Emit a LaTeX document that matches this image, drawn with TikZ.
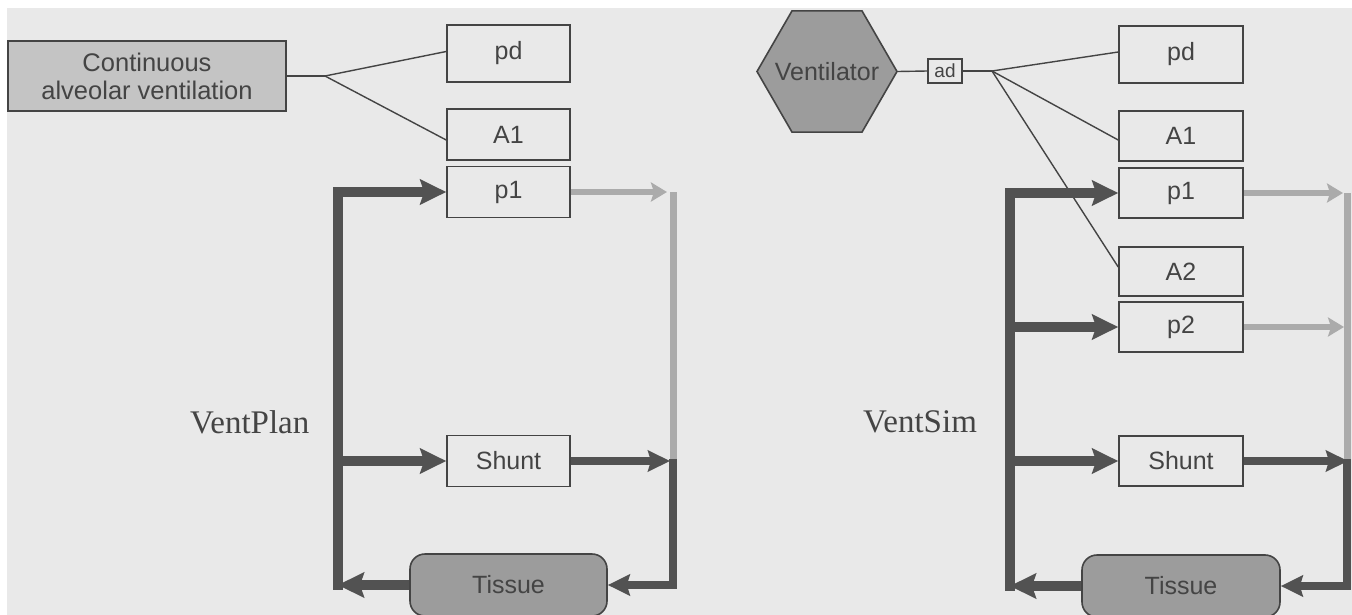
\documentclass[tikz,border=0pt]{standalone}
\usepackage{fontspec}
\setmainfont{Liberation Serif}
\setsansfont{Liberation Sans}
\usetikzlibrary{arrows.meta,shapes.geometric}
\definecolor{bg}{HTML}{E9E9E9}
\definecolor{ink}{HTML}{444444}
\definecolor{lightfill}{HTML}{C4C4C4}
\definecolor{darkfill}{HTML}{9C9C9C}
\definecolor{flow}{HTML}{525252}
\definecolor{dotflow}{HTML}{ABABAB}
\begin{document}
\begin{tikzpicture}[x=1pt,y=-1pt,
  lbl/.style={font=\sffamily\fontsize{25}{28}\selectfont, text=ink},
  box/.style={lbl, draw=ink, line width=1.6pt, fill=bg, inner sep=0pt, minimum height=51pt},
  boxL/.style={box, minimum width=123pt},
  boxR/.style={box, minimum width=124pt},
  tissuebox/.style={lbl, draw=ink, line width=1.6pt, fill=darkfill, rounded corners=15pt, minimum width=197pt, minimum height=62pt, inner sep=0pt},
  title/.style={font=\fontsize{33}{38}\selectfont, text=ink, anchor=base west, inner sep=0pt},
  thin/.style={draw=ink, line width=1.4pt},
  mainline/.style={draw=flow, line width=10.5pt, line join=miter},
  mainarrow/.style={mainline, -{Stealth[length=26pt,width=25pt,inset=4pt]}},
  retline/.style={draw=flow, line width=8pt, line join=miter},
  retarrow/.style={retline, -{Stealth[length=22pt,width=21pt,inset=3pt]}},
  dotline/.style={draw=dotflow, line width=7pt},
  dotarrow/.style={draw=dotflow, line width=6pt, -{Stealth[length=16pt,width=19pt,inset=3pt]}}
]
\useasboundingbox (0,0) rectangle (1352,615);
\fill[white] (0,0) rectangle (1352,615);
\fill[bg] (7,8) rectangle (1352,615);

% ---------------- Left: VentPlan ----------------
\node[lbl, draw=ink, line width=1.6pt, fill=lightfill, minimum width=278pt, minimum height=70pt, inner sep=0pt, align=center, font=\sffamily\fontsize{25.5}{28}\selectfont] (cav) at (147,76) {Continuous\\alveolar ventilation};
\node[boxL, minimum height=57pt] (pdL) at (508.5,53.5) {pd};
\node[boxL] (A1L) at (508.5,134.5) {A1};
\node[boxL] (p1L) at (508.5,192) {p1};
\node[boxL] (shuntL) at (508.5,461) {Shunt};
\node[tissuebox] (tissueL) at (508.5,585) {Tissue};
\node[title] (ventplan) at (190,433) {VentPlan};

\coordinate (jL) at (325,76);
\coordinate (busTopL) at (338,192);
\coordinate (busShL) at (338,461);
\coordinate (busBotL) at (338,585);
\coordinate (retTopL) at (673,192);
\coordinate (retShL) at (673,461);
\coordinate (retBotL) at (673,585);

\draw[thin] (cav.east) -- (jL);
\draw[thin] (jL) -- ([yshift=2pt]pdL.west);
\draw[thin] (jL) -- ([yshift=-5.5pt]A1L.west);

\draw[dotline] (retTopL) -- (retShL);
\draw[dotarrow] (p1L.east) -- ([xshift=-6pt]retTopL);
\draw[mainarrow, line cap=rect] (busBotL) -- (busTopL) -- (p1L.west);
\draw[mainarrow] (busShL) -- (shuntL.west);
\draw[mainarrow] (tissueL.west) -- (busBotL);
\draw[retarrow] (shuntL.east) -- ([xshift=-3pt]retShL);
\draw[retarrow] ([yshift=2pt]retShL) -- (retBotL) -- (tissueL.east);

% ---------------- Right: VentSim ----------------
\node[regular polygon, regular polygon sides=6, minimum size=140pt, inner sep=0pt, draw=ink, line width=1.6pt, fill=darkfill] (vent) at (827,71.5) {};
\node[lbl, inner sep=0pt] (ventlbl) at (vent.center) {Ventilator};
\node[lbl, draw=ink, line width=1.4pt, fill=bg, minimum width=34pt, minimum height=24pt, inner sep=0pt, font=\sffamily\fontsize{19}{20}\selectfont] (ad) at (945,71) {ad};
\node[boxR, minimum height=57pt] (pdR) at (1181,54.5) {pd};
\node[boxR, minimum height=50pt] (A1R) at (1181,136) {A1};
\node[boxR, minimum height=50pt] (p1R) at (1181,193) {p1};
\node[boxR, minimum height=49pt] (A2R) at (1181,271.5) {A2};
\node[boxR, minimum height=50pt] (p2R) at (1181,327) {p2};
\node[boxR, minimum height=50pt] (shuntR) at (1181,461) {Shunt};
\node[tissuebox, minimum width=198pt] (tissueR) at (1181,586) {Tissue};
\node[title] (ventsim) at (863,432) {VentSim};

\coordinate (jR) at (992,71);
\coordinate (busTopR) at (1010,193);
\coordinate (busP2R) at (1010,327);
\coordinate (busShR) at (1010,461);
\coordinate (busBotR) at (1010,586);
\coordinate (retTopR) at (1347,193);
\coordinate (retP2R) at (1347,327);
\coordinate (retShR) at (1347,461);
\coordinate (retBotR) at (1347,586);

\draw[thin] (vent.east) -- (ad.west);
\draw[thin] (ad.east) -- (jR);
\draw[thin] (jR) -- ([yshift=2.5pt]pdR.west);
\draw[thin] (jR) -- ([yshift=-4pt]A1R.west);
\draw[thin] (jR) -- ([yshift=4.5pt]A2R.west);

\draw[dotline] (retTopR) -- (retShR);
\draw[dotarrow] (p1R.east) -- ([xshift=-4pt]retTopR);
\draw[dotarrow] (p2R.east) -- ([xshift=-3pt]retP2R);
\draw[mainarrow, line cap=rect] (busBotR) -- (busTopR) -- (p1R.west);
\draw[mainarrow] (busP2R) -- (p2R.west);
\draw[mainarrow] (busShR) -- (shuntR.west);
\draw[mainarrow] (tissueR.west) -- (busBotR);
\draw[retarrow] (shuntR.east) -- ([xshift=1pt]retShR);
\draw[retarrow] ([yshift=2pt]retShR) -- (retBotR) -- (tissueR.east);
\end{tikzpicture}
\end{document}
